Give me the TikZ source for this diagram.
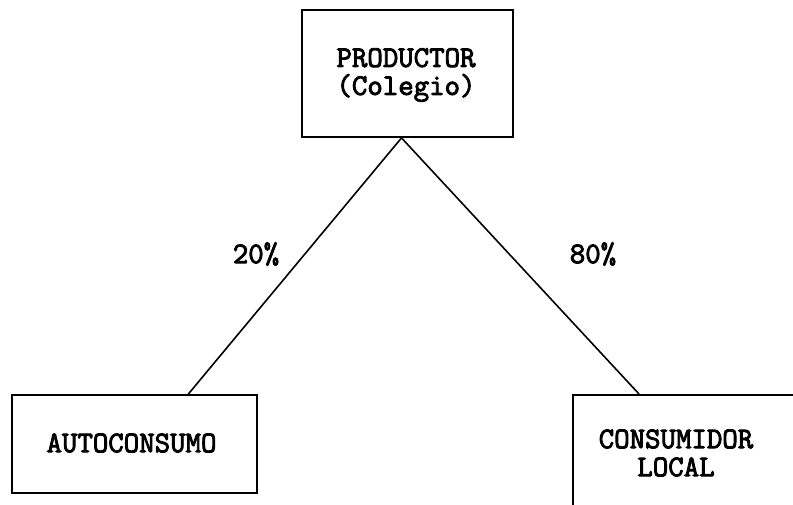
\documentclass[tikz,border=0pt]{standalone}
\usepackage{fontspec}
\newfontfamily\typw[FakeBold=3]{Latin Modern Mono}
\usetikzlibrary{calc}
\begin{document}
\begin{tikzpicture}[x=1pt,y=1pt,
  boxnode/.style={draw,line width=1.8pt,rectangle,inner sep=0pt},
  txt/.style={font=\fontsize{30}{28}\selectfont\typw,align=center,inner sep=0pt},
  conn/.style={line width=1.6pt}]
\useasboundingbox (0,0) rectangle (793,-505);
\clip (0,0) rectangle (793,-505);
\fill[white] (0,0) rectangle (793,-505);
% boxes
\node[boxnode,minimum width=211pt,minimum height=127pt] (prod) at (407.5,-73.5) {};
\node[boxnode,minimum width=245pt,minimum height=98pt] (auto) at (134.5,-444) {};
\node[boxnode,minimum width=260pt,minimum height=150pt] (cons) at (703,-470) {};
% texts
\node[txt] (prodtxt) at (406,-75) {PRODUCTOR\\(Colegio)};
\node[txt] (autotxt) at (131.5,-443) {AUTOCONSUMO};
\node[txt] (constxt) at (676,-453) {CONSUMIDOR\\LOCAL};
% connectors
\coordinate (apex) at ($(prod.south)+(-6,0)$);
\coordinate (autoend) at ($(auto.north west)!0.718!(auto.north east)$);
\coordinate (consend) at ($(cons.north west)+(67,0)$);
\draw[conn] (apex) -- (autoend);
\draw[conn] (apex) -- (consend);
% labels
\node[txt] (p20) at (256,-254) {20\%};
\node[txt] (p80) at (593,-254) {80\%};
\end{tikzpicture}
\end{document}
